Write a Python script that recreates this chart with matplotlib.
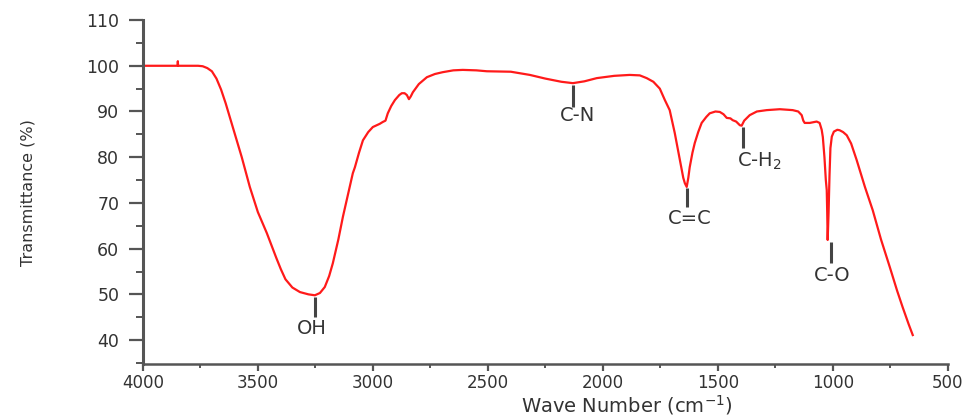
import matplotlib
matplotlib.use("Agg")
import matplotlib.pyplot as plt
from matplotlib.ticker import MultipleLocator

# FTIR spectrum
wavenumber = [4000, 3860, 3849, 3848, 3847, 3760, 3740, 3720, 3700, 3680,
              3660, 3640, 3609, 3570, 3535, 3500, 3461, 3420, 3400, 3380,
              3350, 3317, 3280, 3252, 3230, 3209, 3190, 3174, 3150, 3130,
              3105, 3087, 3078, 3060, 3043, 3020, 3000, 2970, 2957, 2945,
              2935, 2920, 2904, 2885, 2874, 2862, 2852, 2843, 2835, 2826,
              2800, 2765, 2730, 2696, 2650, 2609, 2550, 2504, 2400, 2317,
              2250, 2180, 2130, 2080, 2026, 1950, 1883, 1839, 1809, 1780,
              1752, 1730, 1709, 1687, 1665, 1650, 1643, 1635, 1628, 1622,
              1610, 1600, 1585, 1570, 1550, 1535, 1510, 1491, 1475, 1461,
              1445, 1435, 1420, 1404, 1396, 1385, 1361, 1330, 1287, 1230,
              1174, 1150, 1135, 1128, 1122, 1100, 1070, 1057, 1048, 1043,
              1036, 1030, 1026, 1024, 1022, 1018, 1014, 1010, 1004, 995,
              980, 970, 955, 939, 920, 896, 860, 826, 790, 752,
              720, 696, 670, 652]
transmittance = [100, 100, 100, 101, 100, 100, 99.9, 99.5, 98.8, 97.2,
                 94.8, 91.8, 86.6, 80, 73.5, 68, 63.4, 58, 55.5, 53.3,
                 51.5, 50.5, 50, 49.8, 50.3, 51.6, 54, 56.8, 62, 67,
                 72.5, 76.5, 77.8, 81, 83.7, 85.5, 86.6, 87.3, 87.7, 88,
                 89.6, 91.2, 92.5, 93.6, 94.0, 94.0, 93.6, 92.7, 93.3, 94.2,
                 96, 97.5, 98.2, 98.6, 99, 99.1, 99, 98.8, 98.7, 98,
                 97.2, 96.5, 96.2, 96.6, 97.3, 97.8, 98.0, 97.9, 97.3, 96.5,
                 95, 92.5, 90.3, 85.3, 79.4, 75.5, 74.3, 73.5, 75.5, 77.8,
                 81, 83.1, 85.5, 87.5, 88.8, 89.6, 90, 89.9, 89.4, 88.6,
                 88.5, 88.1, 87.8, 87.0, 86.9, 88, 89.2, 90, 90.3, 90.5,
                 90.3, 90, 89.2, 88, 87.5, 87.5, 87.8, 87.5, 86, 84.4,
                 80, 75, 72.8, 68, 61.9, 68, 76, 82, 84.5, 85.6,
                 86, 85.9, 85.5, 84.8, 83, 79.4, 73.5, 68.4, 62, 56.0,
                 50.8, 47.2, 43.5, 41.1]

# peak assignments: label, marker x, marker top, marker bottom, label x, label y
peak_labels = ["OH", "C-N", "C=C", "C-H$_2$", "C-O"]
peak_x = [3252, 2130, 1635, 1391, 1009]
peak_top = [49.4, 95.8, 73.3, 86.6, 61.5]
peak_bottom = [45.0, 91.0, 69.1, 82.0, 56.8]
label_x = [3265, 2109, 1622, 1317, 1004]
label_y = [42.6, 89.2, 66.6, 79.2, 54.2]

axis_col = "#555555"
text_col = "#333333"

fig = plt.figure(figsize=(9.72, 4.18), dpi=100)
ax = fig.add_axes([0.147, 0.129, 0.828, 0.823])

ax.plot(wavenumber, transmittance, color="#ff1a1a", lw=1.6)

for i in range(len(peak_labels)):
    ax.plot([peak_x[i], peak_x[i]], [peak_top[i], peak_bottom[i]],
            color="#444444", lw=2.2, solid_capstyle="butt")
    ax.text(label_x[i], label_y[i], peak_labels[i], ha="center", va="center",
            fontsize=14, color=text_col)

ax.set_xlim(4000, 500)
ax.set_ylim(34.75, 110)
ax.xaxis.set_major_locator(MultipleLocator(500))
ax.xaxis.set_minor_locator(MultipleLocator(250))
ax.yaxis.set_major_locator(MultipleLocator(10))
ax.yaxis.set_minor_locator(MultipleLocator(5))

ax.spines["top"].set_visible(False)
ax.spines["right"].set_visible(False)
ax.spines["left"].set_color(axis_col)
ax.spines["bottom"].set_color(axis_col)
ax.spines["left"].set_linewidth(2.2)
ax.spines["bottom"].set_linewidth(1.8)

ax.tick_params(axis="x", which="major", length=5, width=1.6, color=axis_col,
               labelsize=12, labelcolor=text_col, pad=2)
ax.tick_params(axis="x", which="minor", length=3, width=1.4, color=axis_col)
ax.tick_params(axis="y", which="major", length=10, width=1.6, color=axis_col,
               labelsize=12.5, labelcolor=text_col, pad=7)
ax.tick_params(axis="y", which="minor", length=5, width=1.4, color=axis_col)

ax.set_xlabel("Wave Number (cm$^{-1}$)", fontsize=14, color=text_col)
ax.xaxis.set_label_coords(0.601, -0.155)
ax.xaxis.label.set_va("bottom")
ax.set_ylabel("Transmittance (%)", fontsize=11.5, color=text_col)
ax.yaxis.set_label_coords(-0.143, 0.5)
ax.yaxis.label.set_va("center")

fig.savefig("out.png", dpi=100)
